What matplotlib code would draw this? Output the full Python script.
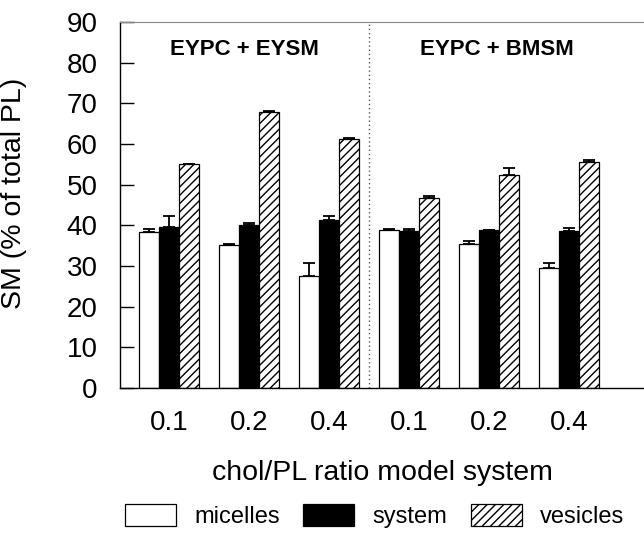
import matplotlib
matplotlib.use("Agg")
import matplotlib.pyplot as plt
import numpy as np
from matplotlib.patches import Patch

plt.rcParams['font.family'] = ['Liberation Sans', 'DejaVu Sans']

ratios = ["0.1", "0.2", "0.4", "0.1", "0.2", "0.4"]
panels = ["EYPC + EYSM", "EYPC + BMSM"]
series = ["micelles", "system", "vesicles"]
micelles = [38.4, 35.1, 27.5, 38.9, 35.5, 29.5]
micelles_err = [0.6, 0.3, 3.3, 0.1, 0.6, 1.2]
system = [39.6, 40.0, 41.4, 38.5, 38.8, 38.7]
system_err = [2.6, 0.6, 0.8, 0.5, 0.1, 0.7]
vesicles = [55.0, 67.9, 61.3, 46.8, 52.4, 55.6]
vesicles_err = [0.1, 0.1, 0.1, 0.3, 1.7, 0.5]

fig = plt.figure(figsize=(6.44, 5.35), dpi=100)
ax = fig.add_axes([0.1863, 0.2748, 0.8137, 0.6841])

x = np.arange(len(ratios))
w = 0.25
styles = [dict(color="white", edgecolor="black"),
          dict(color="black", edgecolor="black"),
          dict(color="white", edgecolor="black", hatch="////")]
vals = [micelles, system, vesicles]
errs = [micelles_err, system_err, vesicles_err]
for k in range(3):
    ax.bar(x + (k - 1) * w, vals[k], w, linewidth=0.9, **styles[k], zorder=2)
    ax.errorbar(x + (k - 1) * w, vals[k], yerr=[np.zeros(len(x)), errs[k]],
                fmt="none", ecolor="black", elinewidth=1.3, capsize=4.5,
                capthick=1.3, zorder=3)

ax.axvline(2.5, color="#555555", linestyle=(0, (1, 2)), linewidth=1.0, zorder=1)

ax.set_xlim(-0.6125, 5.94)
ax.set_ylim(0, 90)
ax.set_yticks(np.arange(0, 91, 10))
ax.tick_params(axis="y", direction="in", length=10, width=1, pad=16,
               labelsize=20)
ax.set_xticks(x)
ax.set_xticklabels(ratios)
ax.tick_params(axis="x", length=0, pad=16, labelsize=20)
ax.spines["right"].set_visible(False)
ax.spines["top"].set_color("#888888")
ax.spines["left"].set_linewidth(1.0)
ax.spines["bottom"].set_linewidth(1.0)

ax.set_ylabel("SM (% of total PL)", fontsize=20.5)
ax.yaxis.set_label_coords(-0.178, 0.533)
ax.set_xlabel("chol/PL ratio model system", fontsize=20.5, labelpad=17)

ax.text(0.94, 83.3, panels[0], ha="center", va="center", fontsize=16,
        fontweight="bold")
ax.text(4.1, 83.3, panels[1], ha="center", va="center", fontsize=16,
        fontweight="bold")

handles = [Patch(facecolor="white", edgecolor="black", linewidth=0.9),
           Patch(facecolor="black", edgecolor="black", linewidth=0.9),
           Patch(facecolor="white", edgecolor="black", hatch="////",
                 linewidth=0.9)]
fig.legend(handles, series, loc="center", bbox_to_anchor=(0.5815, 0.035),
           ncol=3, frameon=False, fontsize=17, handlelength=2.16,
           handleheight=1.0, handletextpad=0.76, columnspacing=1.0,
           borderaxespad=0, borderpad=0)

fig.savefig("out.png", dpi=100)
